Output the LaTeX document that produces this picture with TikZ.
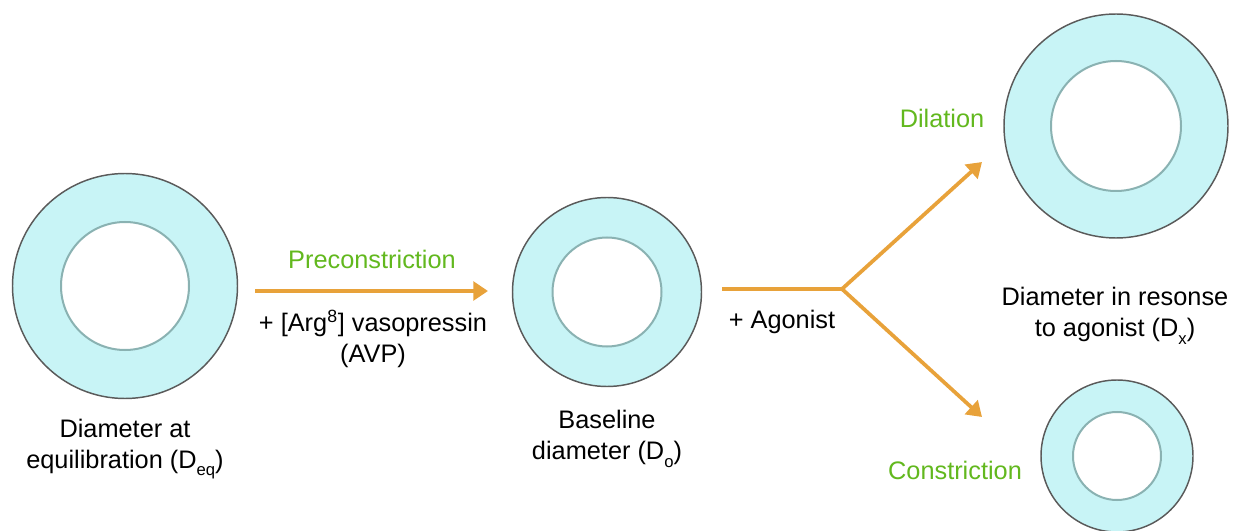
\documentclass[tikz,border=0pt]{standalone}
\usepackage{fontspec}
\setmainfont{Liberation Sans}
\usetikzlibrary{arrows.meta}
\definecolor{wallfill}{HTML}{C8F4F6}
\definecolor{wallline}{HTML}{5A5A5A}
\definecolor{lumenline}{HTML}{8AB2B2}
\definecolor{flowarrow}{HTML}{E8A23A}
\definecolor{steplabel}{HTML}{62B81E}
\newcommand{\lowsub}[1]{\raisebox{-0.55ex}{\fontsize{12.5}{12.5}\selectfont #1}}
\tikzset{
  wall/.style={circle,draw=wallline,line width=1.1pt,fill=wallfill,inner sep=0pt},
  lumen/.style={circle,draw=lumenline,line width=1.5pt,fill=white,inner sep=0pt},
  flow/.style={draw=flowarrow,line width=2.8pt},
  flowtip/.style={flow,-{Triangle[length=11pt,width=14pt]}},
  caption/.style={align=center,font=\fontsize{19}{23.25}\selectfont},
  greenlabel/.style={text=steplabel,font=\fontsize{19}{23.25}\selectfont}
}
\begin{document}
\begin{tikzpicture}[x=0.75pt,y=-0.75pt]
	\useasboundingbox (0,0) rectangle (1236,531);
	% vessels
	\node[wall,minimum size=168.75pt] (eq) at (125,286) {};
	\node[lumen,minimum size=96pt] (eqlumen) at (eq.center) {};
	\node[wall,minimum size=141.75pt] (base) at (607,292) {};
	\node[lumen,minimum size=81.75pt] (baselumen) at (base.center) {};
	\node[wall,minimum size=168pt] (dil) at (1116,126) {};
	\node[lumen,minimum size=97.5pt] (dillumen) at (dil.center) {};
	\node[wall,minimum size=114pt] (con) at (1117,456) {};
	\node[lumen,minimum size=66pt] (conlumen) at (con.center) {};
	% arrows
	\coordinate (pre1) at (255,291);
	\coordinate (pre2) at (488,291);
	\coordinate (ag1) at (722,289);
	\coordinate (split) at (842,289);
	\coordinate (up) at (982,162);
	\coordinate (down) at (982,417);
	\draw[flowtip] (pre1) -- (pre2);
	\draw[flow,line cap=butt] (ag1) -- (split);
	\draw[flowtip] (split) -- (up);
	\draw[flowtip] (split) -- (down);
	% labels
	\node[greenlabel] (prelabel) at (372,259) {Preconstriction};
	\node[caption] (avp) at (373,339) {+ [Arg\textsuperscript{8}] vasopressin\\(AVP)};
	\node[caption] (agonist) at (782,322) {+ Agonist};
	\node[greenlabel] (dillabel) at (942,118) {Dilation};
	\node[greenlabel] (conlabel) at (955,470) {Constriction};
	\node[caption] (eqtext) at (125,449) {Diameter at\\equilibration (D\lowsub{eq})};
	\node[caption] (basetext) at (607,439) {Baseline\\diameter (D\lowsub{o})};
	\node[caption] (dxtext) at (1115,316) {Diameter in resonse\\to agonist (D\lowsub{x})};
\end{tikzpicture}
\end{document}
